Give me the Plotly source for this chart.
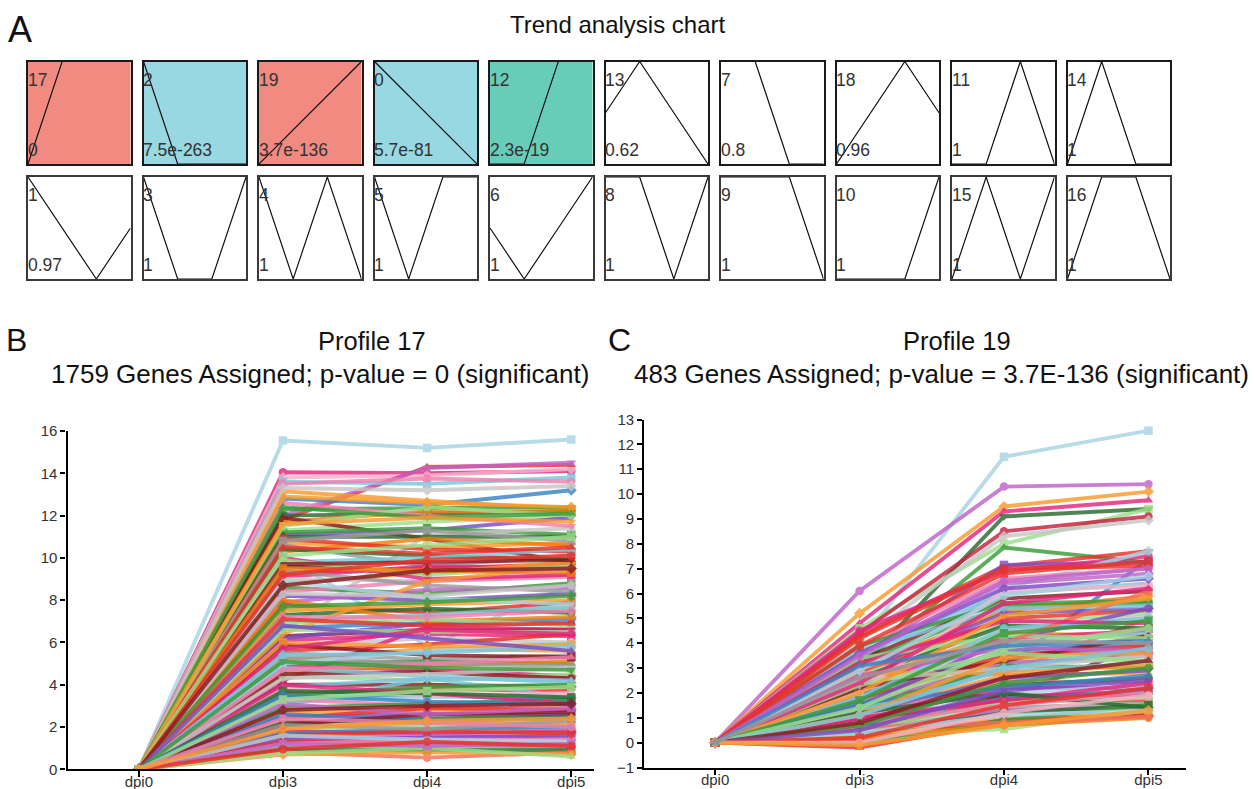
import plotly.graph_objects as go

W, H = 1256, 789
FONT = "Liberation Sans, Arial, Helvetica, sans-serif"

# ---------------- data ----------------
time_points = ["dpi0", "dpi3", "dpi4", "dpi5"]

# Panel A: model profiles (STEM-style units) with ids and p-values
profile_ids_row1 = [17, 2, 19, 0, 12, 13, 7, 18, 11, 14]
profile_p_row1 = ["0", "7.5e-263", "3.7e-136", "5.7e-81", "2.3e-19", "0.62", "0.8", "0.96", "1", "1"]
profile_ids_row2 = [1, 3, 4, 5, 6, 8, 9, 10, 15, 16]
profile_p_row2 = ["0.97", "1", "1", "1", "1", "1", "1", "1", "1", "1"]
profile_values = {
    17: [0, 2, 2, 2], 2: [0, -2, -2, -2], 19: [0, 1, 2, 3], 0: [0, -1, -2, -3],
    12: [0, 0, 1, 1], 13: [0, 1, 0, -1], 7: [0, 0, -1, -1], 18: [0, 1, 2, 1],
    11: [0, 0, 1, 0], 14: [0, 1, 0, 0], 1: [0, -1, -2, -1], 3: [0, -1, -1, 0],
    4: [0, -1, 0, -1], 5: [0, -1, 0, 0], 6: [0, -1, 0, 1], 8: [0, 0, -1, 0],
    9: [0, 0, 0, -1], 10: [0, 0, 0, 1], 15: [0, 1, 0, 1], 16: [0, 1, 1, 0],
}
significant_group = {17: "up", 19: "up", 2: "down", 0: "down", 12: "mid"}

# Panel B: Profile 17 genes (every gene starts at 0 at dpi0)
b_dpi3 = [15.55, 14.05, 13.8, 11.8, 12.0, 13.6, 13.5, 12.8, 13.15, 12.3,
          12.0, 11.7, 11.3, 11.9, 11.1, 11.2, 6.5, 11.0, 10.7, 10.3,
          10.9, 10.6, 10.2, 10.4, 9.6, 9.3, 9.8, 9.1, 8.8, 9.0,
          8.6, 8.4, 8.2, 7.9, 7.6, 7.8, 7.3, 6.7, 7.0, 6.3,
          6.1, 6.2, 5.8, 5.6, 5.2, 5.5, 4.2, 4.9, 5.0, 4.6,
          4.4, 4.5, 4.0, 3.9, 3.6, 3.4, 3.2, 3.0, 3.3, 2.9,
          2.7, 2.5, 2.4, 2.3, 2.2, 2.0, 1.9, 1.8, 1.7, 1.5,
          1.4, 1.3, 1.2, 1.1, 1.0, 0.9, 0.8, 0.7, 0.75, 12.6,
          10.0, 9.4, 8.0, 7.5, 6.4, 5.9, 5.3, 4.8, 3.8, 3.5,
          2.6, 2.1, 1.6, 6.9, 8.9, 10.8, 5.0, 7.2, 9.9, 4.0,
          3.1, 11.5, 12.9, 10.5, 9.7, 9.5, 8.3, 7.7, 7.1, 6.6,
          6.0, 5.7, 5.4, 4.7, 4.3, 3.7, 3.5, 2.8, 2.1, 1.6,
          1.2, 0.95, 13.3, 12.4, 11.6, 10.1, 9.2, 8.7, 6.8, 5.1,
          3.3, 2.4, 1.9]
b_dpi4 = [15.2, 14.0, 13.9, 14.3, 14.25, 13.5, 13.75, 12.5, 12.7, 12.35,
          12.1, 12.2, 11.7, 10.9, 11.3, 11.4, 11.1, 11.0, 10.5, 10.9,
          10.4, 9.6, 5.8, 10.1, 9.3, 9.5, 10.0, 9.6, 9.3, 8.9,
          8.3, 8.9, 8.0, 8.5, 7.5, 7.4, 7.6, 6.9, 7.3, 6.6,
          6.4, 6.9, 6.2, 5.9, 5.7, 5.2, 6.75, 4.7, 5.1, 4.9,
          4.2, 4.6, 4.0, 4.3, 3.8, 3.5, 3.4, 4.3, 3.0, 3.1,
          2.8, 2.6, 2.9, 2.1, 2.4, 2.2, 2.0, 1.7, 1.9, 1.6,
          1.5, 1.3, 1.4, 1.0, 1.2, 0.9, 0.55, 0.8, 1.0, 12.0,
          9.0, 8.7, 7.0, 7.8, 8.9, 5.4, 5.0, 4.4, 3.5, 3.9,
          2.3, 2.6, 1.8, 7.1, 8.1, 11.3, 5.6, 7.2, 9.2, 3.6,
          2.6, 12.4, 12.6, 10.2, 9.8, 9.4, 8.2, 7.9, 6.8, 6.5,
          5.8, 6.6, 5.5, 5.0, 4.5, 3.6, 3.2, 3.0, 1.9, 1.4,
          1.1, 1.3, 13.2, 11.9, 11.9, 10.6, 9.9, 9.4, 6.2, 4.8,
          3.7, 2.2, 2.3]
b_dpi5 = [15.6, 14.1, 14.2, 14.4, 14.5, 13.8, 13.6, 13.2, 12.3, 12.4,
          12.2, 12.2, 12.0, 9.8, 11.9, 11.1, 11.4, 11.0, 10.7, 10.6,
          10.3, 10.1, 8.7, 9.9, 9.6, 9.7, 10.4, 9.5, 9.8, 9.2,
          8.8, 9.1, 8.3, 8.6, 7.6, 7.9, 7.4, 7.1, 7.7, 6.6,
          6.3, 6.9, 6.0, 6.4, 5.6, 5.4, 6.6, 4.4, 5.0, 5.1,
          4.5, 4.3, 3.9, 4.2, 3.7, 3.3, 3.5, 3.4, 3.0, 3.3,
          2.9, 2.6, 2.8, 2.2, 2.5, 2.1, 1.9, 1.8, 2.0, 1.5,
          1.6, 1.2, 1.4, 1.1, 1.0, 0.9, 0.8, 0.7, 0.6, 11.5,
          9.2, 8.4, 7.2, 8.0, 9.6, 5.3, 4.9, 4.1, 3.6, 4.0,
          2.4, 2.7, 1.7, 6.8, 7.8, 10.8, 6.0, 7.5, 9.6, 3.1,
          2.9, 12.0, 12.4, 10.5, 9.9, 9.3, 8.7, 8.2, 6.9, 6.5,
          5.9, 6.4, 5.8, 5.3, 4.8, 3.4, 3.1, 3.1, 2.3, 1.3,
          1.2, 1.1, 13.4, 12.1, 11.7, 11.0, 10.1, 9.5, 5.6, 4.7,
          3.9, 2.0, 2.4]
b_dpi0 = [0.0 for _ in b_dpi3]
b_colors = ["lightblue", "deeppink", "lightpink", "red", "orchid", "skyblue", "pink", "steelblue", "orange", "green",
            "darkgreen", "darkorange", "lightgreen", "maroon", "purple", "green", "lightgray", "darkgreen", "orange", "darkorange",
            "red", "gray", "lightblue", "darkgreen", "maroon", "red", "skyblue", "deeppink", "orange", "lightgray",
            "green", "pink", "purple", "orchid", "lightgreen", "red", "darkgreen", "steelblue", "skyblue", "maroon",
            "deeppink", "purple", "lightgray", "red", "orange", "gray", "deeppink", "deeppink", "green", "darkorange",
            "lightgreen", "maroon", "maroon", "skyblue", "red", "steelblue", "lightblue", "skyblue", "pink", "green",
            "orange", "purple", "red", "lightgray", "darkgreen", "orange", "lightgreen", "deeppink", "steelblue", "orchid",
            "purple", "red", "pink", "lightgreen", "gray", "darkgreen", "salmon", "orange", "lightgreen", "pink",
            "deeppink", "gray", "darkorange", "orange", "orange", "maroon", "gray", "skyblue", "lightpink", "green",
            "steelblue", "maroon", "red", "lightgreen", "lightblue", "gray", "lightblue", "pink", "lightgreen", "deeppink",
            "orchid", "lightgreen", "orange", "red", "maroon", "darkorange", "lightgray", "green", "red", "lightgreen",
            "orange", "deeppink", "skyblue", "pink", "lightgray", "darkgreen", "steelblue", "maroon", "gray", "lightblue",
            "orchid", "red", "lightgray", "green", "orange", "lightgreen", "red", "maroon", "purple", "green",
            "lightgreen", "pink", "orange"]

# Panel C: Profile 19 genes
c_dpi3 = [4.0, 6.1, 5.2, 4.8, 3.0, 4.6, 4.4, 4.1, 3.1, 4.3,
          3.4, 4.5, 2.6, 1.3, 2.2, 2.2, 3.8, 3.6, 3.5, 3.3,
          3.2, 3.0, 2.9, 2.8, 2.7, 2.6, 2.4, 2.5, 2.3, 2.1,
          2.0, 1.9, 1.8, 1.7, 1.6, 1.5, 1.4, 1.3, 1.2, 1.1,
          1.0, 0.9, 0.9, 0.8, 0.7, 0.6, 0.5, 0.5, 0.4, 0.3,
          0.3, 0.2, 0.1, -0.2, -0.05, 0.3, 0.2, 0.6, 3.9, 3.7,
          2.0, 1.5, 2.8, 2.2, 1.0, 3.4, 1.8, 1.2, 0.8, 2.5,
          3.0, 4.2, 3.6, 1.6, 0.4, 2.7, 1.1, 0.7, 3.2, 2.3,
          3.9, 3.5, 2.9, 2.4, 2.0, 1.7, 1.4, 1.1, 0.8, 0.5,
          0.2, 0.0, -0.1, 3.1, 2.6]
c_dpi4 = [11.5, 10.3, 9.5, 9.3, 9.1, 8.0, 8.5, 8.3, 7.85, 7.1,
          7.15, 6.9, 6.2, 3.0, 2.8, 1.8, 6.6, 6.4, 6.0, 5.8,
          5.5, 5.3, 5.2, 5.0, 4.8, 4.7, 4.5, 4.4, 4.2, 4.0,
          3.9, 3.7, 3.6, 3.5, 3.3, 3.2, 3.1, 2.9, 2.7, 2.6,
          2.5, 2.3, 2.2, 2.0, 1.9, 1.8, 1.7, 1.6, 1.4, 1.3,
          1.2, 1.0, 0.9, 0.8, 0.9, 0.55, 0.7, 0.8, 5.6, 5.4,
          6.1, 4.1, 2.8, 3.3, 1.7, 4.3, 4.6, 2.0, 1.5, 3.0,
          4.0, 7.0, 6.2, 2.2, 1.1, 3.8, 3.4, 2.4, 4.9, 3.6,
          6.8, 6.5, 5.9, 5.6, 5.1, 4.4, 3.8, 3.0, 2.6, 2.1,
          1.5, 1.2, 0.7, 3.9, 4.1]
c_dpi5 = [12.55, 10.4, 10.1, 9.75, 9.4, 9.4, 9.1, 8.95, 7.25, 7.7,
          7.25, 7.5, 7.7, 7.4, 5.0, 4.0, 7.0, 6.8, 6.4, 6.1,
          5.6, 5.9, 5.4, 5.3, 5.2, 4.6, 5.1, 4.3, 4.5, 4.4,
          3.8, 4.0, 3.6, 3.9, 3.3, 3.5, 3.0, 3.2, 2.8, 2.9,
          2.4, 2.6, 2.2, 2.3, 1.9, 2.1, 1.7, 1.8, 1.6, 1.4,
          1.5, 1.2, 1.1, 1.1, 1.5, 1.3, 1.0, 1.05, 5.7, 5.5,
          6.3, 5.4, 3.1, 4.3, 2.4, 4.2, 5.0, 1.4, 2.0, 3.5,
          6.1, 7.1, 6.6, 2.7, 1.3, 3.7, 3.6, 3.0, 4.8, 3.3,
          7.3, 7.0, 6.7, 6.2, 5.8, 4.9, 4.6, 3.8, 3.3, 2.5,
          2.2, 1.9, 1.3, 4.1, 4.0]
c_dpi0 = [0.0 for _ in c_dpi3]
c_colors = ["lightblue", "orchid", "orange", "deeppink", "darkgreen", "lightgreen", "crimson", "lightgray", "green", "red",
            "purple", "deeppink", "lightblue", "steelblue", "salmon", "maroon", "pink", "orchid", "skyblue", "maroon",
            "green", "darkorange", "purple", "red", "lightgreen", "darkgreen", "lightgray", "orange", "deeppink", "skyblue",
            "lightpink", "steelblue", "gray", "red", "lightgreen", "orchid", "green", "skyblue", "orange", "purple",
            "pink", "darkgreen", "deeppink", "lightblue", "maroon", "steelblue", "red", "lightgreen", "gray", "orchid",
            "darkgreen", "orange", "red", "red", "green", "lightgreen", "darkorange", "salmon", "green", "skyblue",
            "lightpink", "purple", "orange", "maroon", "deeppink", "lightgreen", "skyblue", "darkgreen", "pink", "lightgray",
            "salmon", "red", "purple", "steelblue", "lightblue", "orchid", "orange", "green", "deeppink", "lightgreen",
            "red", "orchid", "lightblue", "deeppink", "orange", "green", "lightgreen", "skyblue", "maroon", "purple",
            "red", "lightpink", "orange", "steelblue", "gray"]

# ---------------- styles ----------------
palette = {
    "lightblue": "#a8d5e3", "deeppink": "#e3267d", "lightpink": "#f5b3c8", "pink": "#f07fb0",
    "red": "#e8332a", "crimson": "#c8203f", "orchid": "#bf63c9", "skyblue": "#7cc6dc",
    "steelblue": "#3a83c4", "orange": "#fb9a2e", "darkorange": "#f07f12", "green": "#3b9a3b",
    "darkgreen": "#2a6b2e", "lightgreen": "#9bdf8c", "maroon": "#8a1c22", "purple": "#7b4dc4",
    "gray": "#9a9a9a", "lightgray": "#c6c6c6", "salmon": "#f2705e",
}
symbols = ["square", "circle", "diamond", "triangle-up", "triangle-down"]
box_fill = {"up": "#f18a80", "down": "#98d8e2", "mid": "#67cdb8"}

fig = go.Figure()
layout = dict(template="none", width=W, height=H,
              margin=dict(l=0, r=0, t=0, b=0, pad=0, autoexpand=False),
              paper_bgcolor="white", plot_bgcolor="rgba(0,0,0,0)",
              showlegend=False, font=dict(family=FONT, color="#222"))
annotations = []
shapes = []


def px_x(v):
    return v / W


def px_y(v):
    return 1 - v / H


# ---------------- panel A ----------------
box_w = 102.5
box_step = 115.5
box_left0 = 28
rows = [(61.5, 164.0, profile_ids_row1, profile_p_row1, "#1a1a1a"),
        (177.0, 279.0, profile_ids_row2, profile_p_row2, "#3a3a3a")]
n = 3
for top, bottom, ids, pvals, edge in rows:
    for i, (pid, pv) in enumerate(zip(ids, pvals)):
        x0 = box_left0 + box_step * i
        vals = profile_values[pid]
        layout[f"xaxis{n}"] = dict(domain=[px_x(x0), px_x(x0 + box_w)], range=[0, 3], anchor=f"y{n}",
                                   showline=True, mirror=True, linecolor=edge, linewidth=1.5,
                                   showticklabels=False, ticks="", showgrid=False, zeroline=False,
                                   fixedrange=True, automargin=False)
        layout[f"yaxis{n}"] = dict(domain=[px_y(bottom), px_y(top)], range=[min(vals), max(vals)],
                                   anchor=f"x{n}", showline=True, mirror=True, linecolor=edge,
                                   linewidth=1.5, showticklabels=False, ticks="", showgrid=False,
                                   zeroline=False, fixedrange=True, automargin=False)
        if pid in significant_group:
            shapes.append(dict(type="rect", xref=f"x{n} domain", yref=f"y{n} domain",
                               x0=0, x1=1, y0=0, y1=1, fillcolor=box_fill[significant_group[pid]],
                               line=dict(width=0), layer="below"))
        fig.add_trace(go.Scatter(x=[0, 1, 2, 3], y=vals, mode="lines",
                                 line=dict(color="#111", width=1.2),
                                 xaxis=f"x{n}", yaxis=f"y{n}", hoverinfo="skip"))
        annotations.append(dict(x=px_x(x0 - 2.5), y=px_y(top + 18.3), xref="paper", yref="paper",
                                text=str(pid), showarrow=False, xanchor="left", yanchor="middle",
                                font=dict(size=17.5, color="#333", family=FONT)))
        annotations.append(dict(x=px_x(x0 - 2.5), y=px_y(bottom - 14.5), xref="paper", yref="paper",
                                text=pv, showarrow=False, xanchor="left", yanchor="middle",
                                font=dict(size=17.5, color="#333", family=FONT)))
        n += 1

# ---------------- panels B and C ----------------
xpos = [0, 1, 2, 3]


def add_lines(d0, d3, d4, d5, cols, xref, yref):
    for k in range(len(d3)):
        col = palette[cols[k]]
        fig.add_trace(go.Scatter(
            x=xpos, y=[d0[k], d3[k], d4[k], d5[k]], mode="lines+markers",
            line=dict(color=col, width=3.9),
            marker=dict(symbol=symbols[k % len(symbols)], size=8.5, color=col),
            opacity=0.82, xaxis=xref, yaxis=yref, hoverinfo="skip"))


add_lines(b_dpi0, b_dpi3, b_dpi4, b_dpi5, b_colors, "x", "y")
add_lines(c_dpi0, c_dpi3, c_dpi4, c_dpi5, c_colors, "x2", "y2")

axis_common = dict(showline=True, linecolor="black", linewidth=2.2, showgrid=False, zeroline=False,
                   ticks="outside", tickwidth=1.5, tickcolor="black", automargin=False,
                   tickfont=dict(size=15, color="#333", family=FONT), fixedrange=True)
layout["xaxis"] = dict(axis_common, domain=[px_x(67.5), px_x(594.3)], range=[-0.495, 3.16],
                       tickvals=xpos, ticktext=time_points, ticklen=6, anchor="y",
                       ticklabelstandoff=-8)
layout["yaxis"] = dict(axis_common, domain=[px_y(769.3), px_y(431)], range=[0, 16],
                       tickvals=list(range(0, 17, 2)), ticklen=5, anchor="x")
layout["xaxis2"] = dict(axis_common, domain=[px_x(644.3), px_x(1186)], range=[-0.49, 3.26],
                        tickvals=xpos, ticktext=time_points, ticklen=5, anchor="y2",
                        ticklabelstandoff=-8)
layout["yaxis2"] = dict(axis_common, domain=[px_y(767.5), px_y(419.5)], range=[-1, 13],
                        tickvals=list(range(-1, 14)), ticklen=5, anchor="x2")


# ---------------- texts ----------------
def txt(x, y, s, size, anchor="center"):
    annotations.append(dict(x=px_x(x), y=px_y(y), xref="paper", yref="paper", text=s,
                            showarrow=False, xanchor=anchor, yanchor="middle",
                            font=dict(size=size, color="#111", family=FONT)))


txt(6, 29, "A", 36, "left")
txt(617.5, 25, "Trend analysis chart", 24)
txt(4, 339.5, "B", 32, "left")
txt(606, 340, "C", 32, "left")
txt(372, 341, "Profile 17", 25.5)
txt(319.5, 373.5, "1759 Genes Assigned; p-value = 0 (significant)", 26)
txt(957, 341, "Profile 19", 25.5)
txt(941.5, 373.5, "483 Genes Assigned; p-value = 3.7E-136 (significant)", 26)

layout["annotations"] = annotations
layout["shapes"] = shapes
fig.update_layout(**layout)
fig.write_html("out.html", config={"displayModeBar": False},
               post_script="document.body.style.margin='0';document.body.style.overflow='hidden';")
